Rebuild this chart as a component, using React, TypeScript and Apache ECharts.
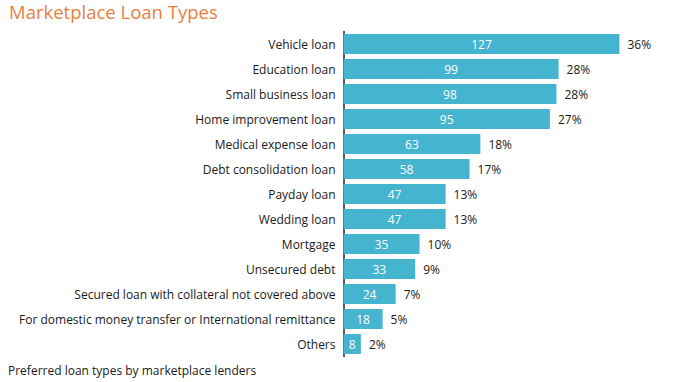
import React, { useEffect, useRef } from "react";
import * as echarts from "echarts";

const categories = [
  "Vehicle loan",
  "Education loan",
  "Small business loan",
  "Home improvement loan",
  "Medical expense loan",
  "Debt consolidation loan",
  "Payday loan",
  "Wedding loan",
  "Mortgage",
  "Unsecured debt",
  "Secured loan with collateral not covered above",
  "For domestic money transfer or International remittance",
  "Others",
];
const counts = [127, 99, 98, 95, 63, 58, 47, 47, 35, 33, 24, 18, 8];
const percents = [36, 28, 28, 27, 18, 17, 13, 13, 10, 9, 7, 5, 2];

const FONT = "'Open Sans', 'DejaVu Sans', sans-serif";

export default function App() {
  const ref = useRef<HTMLDivElement>(null);
  useEffect(() => {
    if (!ref.current) return;
    const chart = echarts.init(ref.current, null, { renderer: "svg" });
    chart.setOption({
      animation: false,
      title: {
        text: "Marketplace Loan Types",
        left: 9,
        top: 1,
        padding: 0,
        textStyle: { color: "#E8813F", fontSize: 18.5, lineHeight: 20, fontWeight: "normal", fontFamily: FONT },
      },
      graphic: [
        {
          type: "text",
          left: 8,
          top: 364,
          style: {
            text: "Preferred loan types by marketplace lenders",
            fontSize: 12,
            fill: "#1a1a1a",
            fontFamily: FONT,
          },
        },
      ],
      grid: { left: 343.5, top: 31.5, height: 325, width: 325.9 },
      xAxis: {
        type: "value",
        min: 0,
        max: 150,
        show: false,
      },
      yAxis: {
        type: "category",
        data: categories,
        inverse: true,
        axisTick: { show: false },
        axisLine: { show: true, lineStyle: { color: "#222", width: 1.5 } },
        axisLabel: { color: "#1a1a1a", fontSize: 12, margin: 8, fontFamily: FONT },
      },
      series: [
        {
          type: "bar",
          data: counts,
          barWidth: 20,
          itemStyle: { color: "#44B4CF" },
          label: {
            show: true,
            position: "inside",
            color: "#fff",
            fontSize: 12,
            fontFamily: FONT,
          },
        },
        {
          type: "bar",
          data: counts,
          barWidth: 20,
          barGap: "-100%",
          itemStyle: { color: "rgba(0,0,0,0)" },
          silent: true,
          label: {
            show: true,
            position: "right",
            distance: 8,
            color: "#1a1a1a",
            fontSize: 12,
            fontFamily: FONT,
            formatter: (p: any) => percents[p.dataIndex] + "%",
          },
        },
      ],
    });
    return () => chart.dispose();
  }, []);
  return <div ref={ref} style={{ width: 673, height: 382, position: "absolute", left: 0, top: 0 }} />;
}
